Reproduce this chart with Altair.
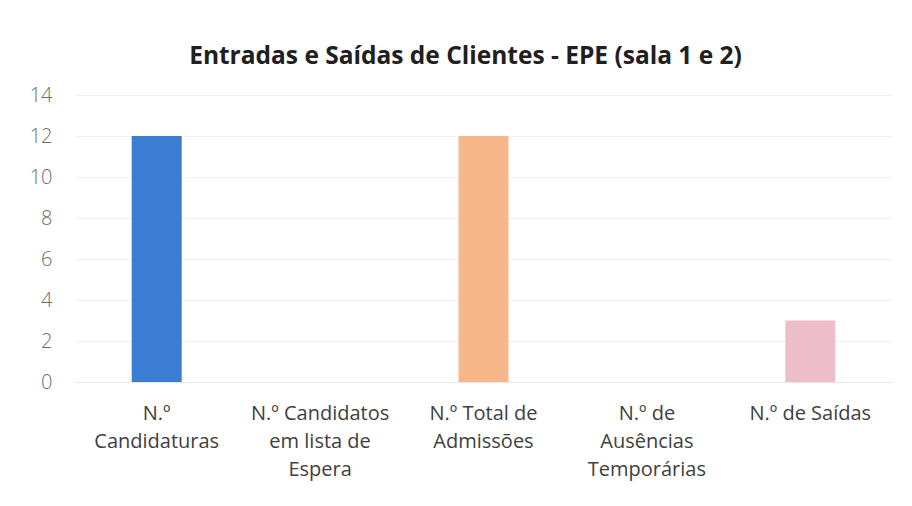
import altair as alt
import pandas as pd

categories = [
    "N.º\nCandidaturas",
    "N.º Candidatos\nem lista de\nEspera",
    "N.º Total de\nAdmissões",
    "N.º de\nAusências\nTemporárias",
    "N.º de Saídas",
]
values = [12, 0, 12, 0, 3]
colors = ["#3A7DD3", "#5B9BD5", "#F8B78A", "#C9C9C9", "#EEBDCB"]

df = pd.DataFrame({"cat": categories, "val": values})

FONT = "Open Sans"

chart = (
    alt.Chart(df)
    .mark_bar(size=50)
    .encode(
        x=alt.X(
            "cat:N",
            sort=categories,
            title=None,
            scale=alt.Scale(paddingInner=0, paddingOuter=0),
            axis=alt.Axis(
                labelAngle=0,
                labelExpr="split(datum.label, '\\n')",
                labelFont=FONT,
                labelFontSize=20,
                labelColor="#404040",
                labelLineHeight=28,
                labelBaseline="top",
                labelPadding=21,
                labelLimit=300,
                ticks=False,
                domainColor="#E6E6E6",
                grid=False,
            ),
        ),
        y=alt.Y(
            "val:Q",
            title=None,
            scale=alt.Scale(domain=[0, 14]),
            axis=alt.Axis(
                values=[0, 2, 4, 6, 8, 10, 12, 14],
                labelFont=FONT,
                labelFontSize=20,
                labelFontWeight=300,
                labelColor="#6E6E6E",
                labelPadding=23,
                ticks=False,
                domain=False,
                gridColor="#F0F0F0",
            ),
        ),
        color=alt.Color(
            "cat:N",
            scale=alt.Scale(domain=categories, range=colors),
            legend=None,
        ),
    )
    .properties(
        width=817,
        height=287,
        autosize=alt.AutoSizeParams(type="none"),
        padding={"left": 67, "top": 87, "right": 12, "bottom": 110},
        title=alt.TitleParams(
            "Entradas e Saídas de Clientes - EPE (sala 1 e 2)",
            font=FONT,
            fontSize=24.5,
            fontWeight="bold",
            color="#202020",
            offset=16,
            dx=-18,
        ),
    )
    .configure_view(stroke=None)
)

chart.save("out.html", embed_options={"renderer": "svg", "actions": False})
